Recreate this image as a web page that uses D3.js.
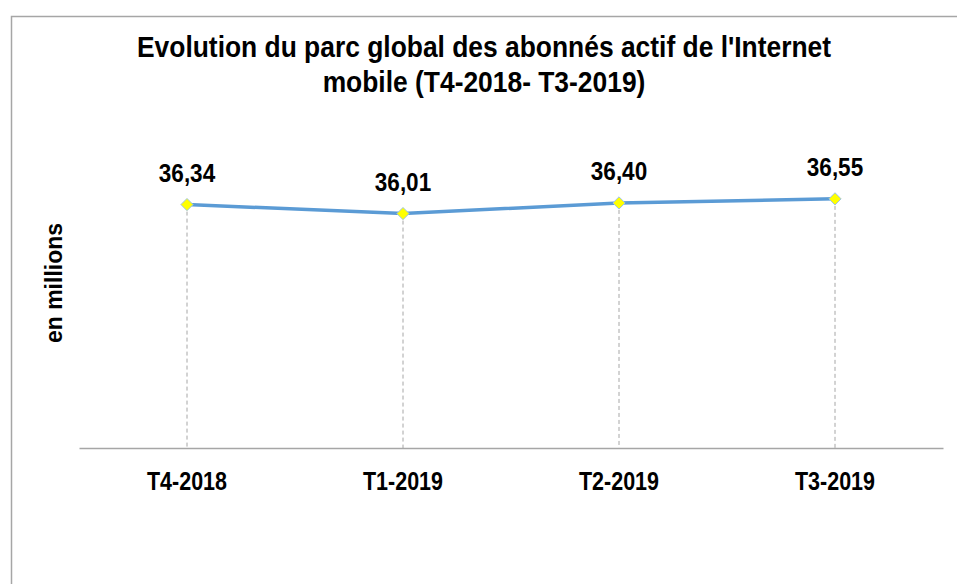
<!DOCTYPE html>
<html>
<head>
<meta charset="utf-8">
<script src="https://cdn.jsdelivr.net/npm/d3@7/dist/d3.min.js"></script>
<style>
    body { margin: 0; background: #fff; }
    svg { display: block; }
    text { font-family: "Liberation Sans", Arial, sans-serif; font-weight: bold; fill: #000; }
</style>
</head>
<body>
<svg id="chart" width="957" height="584"></svg>
<script>
(function(){
    var quarters = ['T4-2018', 'T1-2019', 'T2-2019', 'T3-2019'];
    var subscribers = [36.34, 36.01, 36.40, 36.55];
    var titleLines = ["Evolution du parc global des abonnés actif de l'Internet", 'mobile (T4-2018- T3-2019)'];

    var W = 957, H = 584;
    var left = 79, right = 943, top = 173, bottom = 448;
    var narrow = 'scale(0.86,1)';   // fake Arial Narrow

    var svg = d3.select('#chart');

    // outer frame (runs off the right / bottom edges)
    svg.append('rect')
        .attr('x', 11.5).attr('y', 16.5)
        .attr('width', W).attr('height', H)
        .style('fill', 'none')
        .style('stroke', '#a6a6a6')
        .style('stroke-width', 1.5);

    var x = d3.scaleBand().domain(quarters).range([left, right]);
    var y = d3.scaleLinear().domain([27.4, 37.5]).range([bottom, top]);

    var data = quarters.map(function(q, i){ return { q: q, v: subscribers[i] }; });
    var cx = function(d){ return x(d.q) + x.bandwidth() / 2; };

    // title
    svg.append('g')
        .attr('transform', 'translate(484,57) scale(0.88,1)')
        .append('text')
        .attr('text-anchor', 'middle')
        .style('font-size', '30px')
        .selectAll('tspan')
        .data(titleLines)
        .enter().append('tspan')
        .attr('x', 0)
        .attr('dy', function(d, i){ return i ? 35 : 0; })
        .text(function(d){ return d; });

    // drop lines
    svg.append('g').selectAll('line')
        .data(data)
        .enter().append('line')
        .attr('x1', cx).attr('x2', cx)
        .attr('y1', function(d){ return y(d.v); })
        .attr('y2', bottom)
        .style('stroke', '#a6a6a6')
        .style('stroke-width', 1)
        .style('stroke-dasharray', '4,3');

    // x axis
    var xAxis = svg.append('g')
        .attr('transform', 'translate(0,' + bottom + ')')
        .call(d3.axisBottom(x).tickSize(0).tickPadding(24));
    xAxis.select('.domain').attr('stroke', '#a6a6a6').attr('stroke-width', 1.5);
    xAxis.selectAll('text')
        .attr('transform', narrow)
        .style('font-size', '25px')
        .style('font-family', null)
        .attr('fill', '#000');

    // y axis title
    svg.append('text')
        .attr('transform', 'translate(62,283) rotate(-90)')
        .attr('text-anchor', 'middle')
        .style('font-size', '23px')
        .text('en millions');

    // series line
    svg.append('path')
        .datum(data)
        .attr('d', d3.line().x(cx).y(function(d){ return y(d.v); }))
        .style('fill', 'none')
        .style('stroke', '#5b9bd5')
        .style('stroke-width', 3.5);

    // diamond markers
    svg.append('g').selectAll('path')
        .data(data)
        .enter().append('path')
        .attr('transform', function(d){ return 'translate(' + cx(d) + ',' + y(d.v) + ')'; })
        .attr('d', d3.symbol().type(d3.symbolDiamond2).size(95))
        .style('fill', '#ffff00')
        .style('stroke', '#9dc3e6')
        .style('stroke-width', 1);

    // data labels
    svg.append('g').selectAll('g')
        .data(data)
        .enter().append('g')
        .attr('transform', function(d){ return 'translate(' + cx(d) + ',' + (y(d.v) - 23) + ') scale(0.9,1)'; })
        .append('text')
        .attr('text-anchor', 'middle')
        .style('font-size', '25px')
        .text(function(d){ return d.v.toFixed(2).replace('.', ','); });
})();
</script>
</body>
</html>
